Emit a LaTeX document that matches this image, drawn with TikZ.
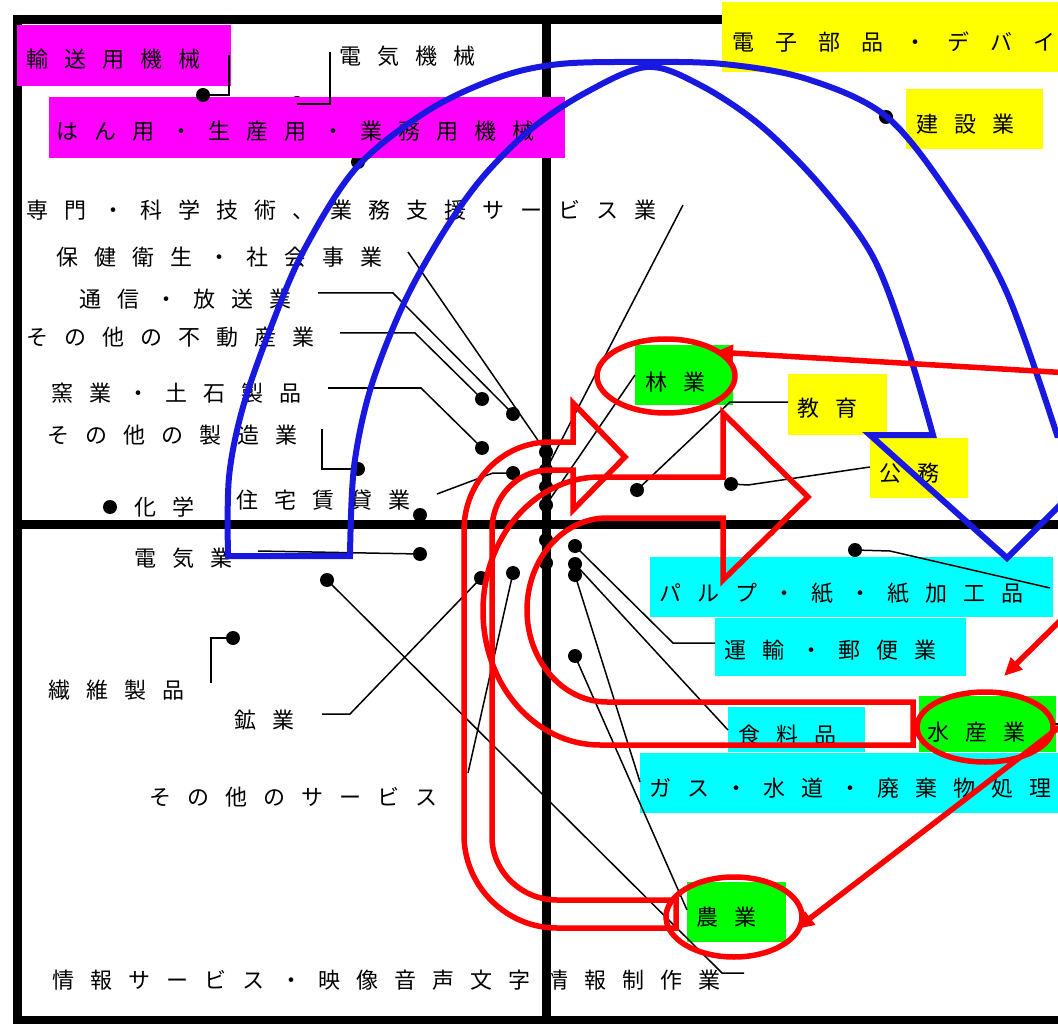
\documentclass[tikz,border=0pt]{standalone}
\usepackage{fontspec}
\newfontfamily\jp{Noto Sans CJK JP}
\usetikzlibrary{arrows.meta}
\newlength\lspitch
\def\lsloop#1{\ifx\relax#1\else\makebox[\lspitch][l]{#1}\expandafter\lsloop\fi}
\newcommand\ls[2][38pt]{\setlength\lspitch{#1}\lsloop#2\relax}
\definecolor{mag}{RGB}{255,0,255}
\definecolor{yel}{RGB}{255,255,0}
\definecolor{grn}{RGB}{0,255,0}
\definecolor{cyn}{RGB}{0,255,255}
\definecolor{blu}{RGB}{24,24,224}
\definecolor{rd}{RGB}{255,0,0}
\tikzset{
  lab/.style={anchor=west,inner sep=0pt,font=\jp\fontsize{22pt}{26pt}\selectfont,text height=18pt,text depth=2pt},
  dot/.style={circle,fill=black,inner sep=0pt,minimum size=14pt},
  lead/.style={line width=1.5pt},
  frameline/.style={line width=9pt},
  barrow/.style={draw=blu,line width=6pt,line join=miter},
  rarrow/.style={draw=rd,line width=5.5pt,line join=miter},
  ring/.style={draw=rd,line width=5.5pt},
  rline/.style={draw=rd,line width=5.5pt,-{Triangle[length=18pt,width=16pt]}}
}
\begin{document}
\begin{tikzpicture}[x=1pt,y=-1pt]
\useasboundingbox (0,0) rectangle (1058,1024);
\clip (0,0) rectangle (1058,1024);
% frame and axes
\draw[frameline] (1070,20) -- (17,20) -- (17,1020) -- (1070,1020);
\draw[frameline] (17,524) -- (1070,524);
\draw[frameline] (546,20) -- (546,1020);
% dots hidden under boxes
\node[dot] (dk) at (297,103) {};
\node[dot] (dh) at (358,162) {};
% coloured boxes
\fill[mag] (17,25) rectangle (231,86);
\fill[mag] (49,97) rectangle (565,158);
\fill[yel] (722,2) rectangle (1060,72);
\fill[yel] (906,89) rectangle (1043,149);
\fill[grn] (635,345) rectangle (733,405);
\fill[yel] (788,374) rectangle (887,435);
\fill[yel] (870,438) rectangle (968,498);
\fill[cyn] (650,557) rectangle (1053,617);
\fill[cyn] (715,618) rectangle (966,676);
\fill[cyn] (728,707) rectangle (865,752);
\fill[grn] (919,696) rectangle (1056,752);
\fill[cyn] (640,753) rectangle (1060,813);
\fill[grn] (687,882) rectangle (786,942);
% labels
\node[lab] (t1) at (26,60) {\ls{輸送用機械}};
\node[lab] (t2) at (339,57) {\ls{電気機械}};
\node[lab] (t3) at (56,132) {\ls{はん用・生産用・業務用機械}};
\node[lab] (t4) at (732,43) {\ls[43pt]{電子部品・デバイ}};
\node[lab] (t5) at (916,125) {\ls{建設業}};
\node[lab] (t6) at (26,211) {\ls{専門・科学技術、業務支援サービス業}};
\node[lab] (t7) at (56,258) {\ls{保健衛生・社会事業}};
\node[lab] (t8) at (79,300) {\ls{通信・放送業}};
\node[lab] (t9) at (26,338) {\ls{その他の不動産業}};
\node[lab] (t10) at (51,393) {\ls{窯業・土石製品}};
\node[lab] (t11) at (47,435) {\ls{その他の製造業}};
\node[lab] (t12) at (134,507) {\ls{化学}};
\node[lab] (t13) at (236,500) {\ls{住宅賃貸業}};
\node[lab] (t14) at (134,558) {\ls{電気業}};
\node[lab] (t15) at (48,690) {\ls{繊維製品}};
\node[lab] (t16) at (234,720) {\ls{鉱業}};
\node[lab] (t17) at (149,797) {\ls{その他のサービス}};
\node[lab] (t18) at (52,980) {\ls{情報サービス・映像音声文字情報制作業}};
\node[lab] (t19) at (645,382) {\ls{林業}};
\node[lab] (t20) at (797,408) {\ls{教育}};
\node[lab] (t21) at (879,473) {\ls{公務}};
\node[lab] (t22) at (659,593) {\ls{パルプ・紙・紙加工品}};
\node[lab] (t23) at (724,650) {\ls{運輸・郵便業}};
\node[lab] (t24) at (738,735) {\ls{食料品}};
\node[lab] (t25) at (927,732) {\ls{水産業}};
\node[lab] (t26) at (649,788) {\ls{ガス・水道・廃棄物処理}};
\node[lab] (t27) at (696,917) {\ls{農業}};
% dots
\node[dot] (d1) at (203,95) {};
\node[dot] (d4) at (886,117) {};
\node[dot] (d5) at (546,452) {};
\node[dot] (d6) at (546,470) {};
\node[dot] (d6b) at (546,487) {};
\node[dot] (d13) at (546,505) {};
\node[dot] (d6c) at (546,540) {};
\node[dot] (d6d) at (546,563) {};
\node[dot] (d7) at (513,414) {};
\node[dot] (d8) at (482,399) {};
\node[dot] (d9) at (482,448) {};
\node[dot] (d10) at (358,469) {};
\node[dot] (d11) at (513,473) {};
\node[dot] (d11b) at (420,515) {};
\node[dot] (d12) at (110,507) {};
\node[dot] (d14) at (637,490) {};
\node[dot] (d15) at (731,484) {};
\node[dot] (d16) at (420,554) {};
\node[dot] (d17) at (327,580) {};
\node[dot] (d18) at (233,638) {};
\node[dot] (d19) at (481,578) {};
\node[dot] (d20) at (513,573) {};
\node[dot] (d21) at (855,550) {};
\node[dot] (d22) at (575,546) {};
\node[dot] (d23) at (575,564) {};
\node[dot] (d24) at (575,575) {};
\node[dot] (d25) at (575,656) {};
% leader lines
\draw[lead] (d1.center) -- (229,95) -- (229,55);
\draw[lead] (297,104) -- (330,104) -- (330,52);
\draw[lead] (408,252) -- (d5.center);
\draw[lead] (683,205) -- (d6.center);
\draw[lead] (318,293) -- (393,293) -- (d7.center);
\draw[lead] (340,333) -- (415,333) -- (d8.center);
\draw[lead] (328,388) -- (421,388) -- (d9.center);
\draw[lead] (322,429) -- (322,469) -- (d10.center);
\draw[lead] (437,494) -- (493,473) -- (d11.center);
\draw[lead] (635,375) -- (d13.center);
\draw[lead] (788,402) -- (730,402) -- (d14.center);
\draw[lead] (870,467) -- (748,485) -- (d15.center);
\draw[lead] (258,551) -- (d16.center);
\draw[lead] (d17.center) -- (722,973) -- (744,973);
\draw[lead] (d18.center) -- (211,638) -- (211,683);
\draw[lead] (322,714) -- (350,714) -- (d19.center);
\draw[lead] (468,773) -- (d20.center);
\draw[lead] (d21.center) -- (890,551) -- (1050,588);
\draw[lead] (d22.center) -- (673,643) -- (715,643);
\draw[lead] (d23.center) -- (728,730);
\draw[lead] (d24.center) -- (640,782);
\draw[lead] (d25.center) -- (687,910);
\draw[lead] (1050,724) -- (1062,724);
% blue curved arrow
\draw[barrow] (228,556) -- plot[smooth,tension=0.55] coordinates {(228,556) (229,477) (243,407) (271,327) (304,250) (357,167) (429,110) (500,77) (560,64) (640,62) (723,64) (807,79) (887,117) (953,200) (1007,293) (1057,435)}
  -- (1130,435) -- (1007,558) -- (870,435) -- (933,435)
  -- plot[smooth,tension=0.55] coordinates {(933,435) (905,340) (872,255) (820,185) (760,125) (700,85) (647,67) (585,93) (530,130) (482,178) (443,233) (404,303) (371,387) (354,467) (350,556)}
  -- cycle;
% red U arrows
\draw[rarrow] (676,928) -- (557,928) .. controls (506,928) and (464,886) .. (464,835) -- (464,530)
  .. controls (464,482) and (502,442) .. (550,442) -- (573,442) -- (573,403) -- (625,457) -- (573,510) -- (573,470) -- (550,470)
  .. controls (517,470) and (492,497) .. (492,530) -- (492,837) .. controls (492,872) and (522,900) .. (557,900) -- (676,900) -- cycle;
\draw[rarrow] (913,745) -- (600,745) .. controls (535,745) and (483,685) .. (483,611)
  .. controls (483,537) and (535,477) .. (600,477) -- (723,477) -- (723,413) -- (808,497) -- (723,580) -- (723,518) -- (607,518)
  .. controls (563,518) and (527,559) .. (527,610) .. controls (527,661) and (563,702) .. (607,702) -- (913,702) -- cycle;
% red rings
\draw[ring] (666,376) ellipse[x radius=69,y radius=37];
\draw[ring] (985,727) ellipse[x radius=68,y radius=35];
\draw[ring] (734,917) ellipse[x radius=68,y radius=40];
% red straight arrows
\coordinate (r1) at (1070,373);
\coordinate (r2) at (1070,611);
\coordinate (r3) at (1066,722);
\draw[rline] (r1) -- (715,352);
\draw[rline] (r2) -- (1004,676);
\draw[rline] (r3) -- (796,929);
\end{tikzpicture}
\end{document}
